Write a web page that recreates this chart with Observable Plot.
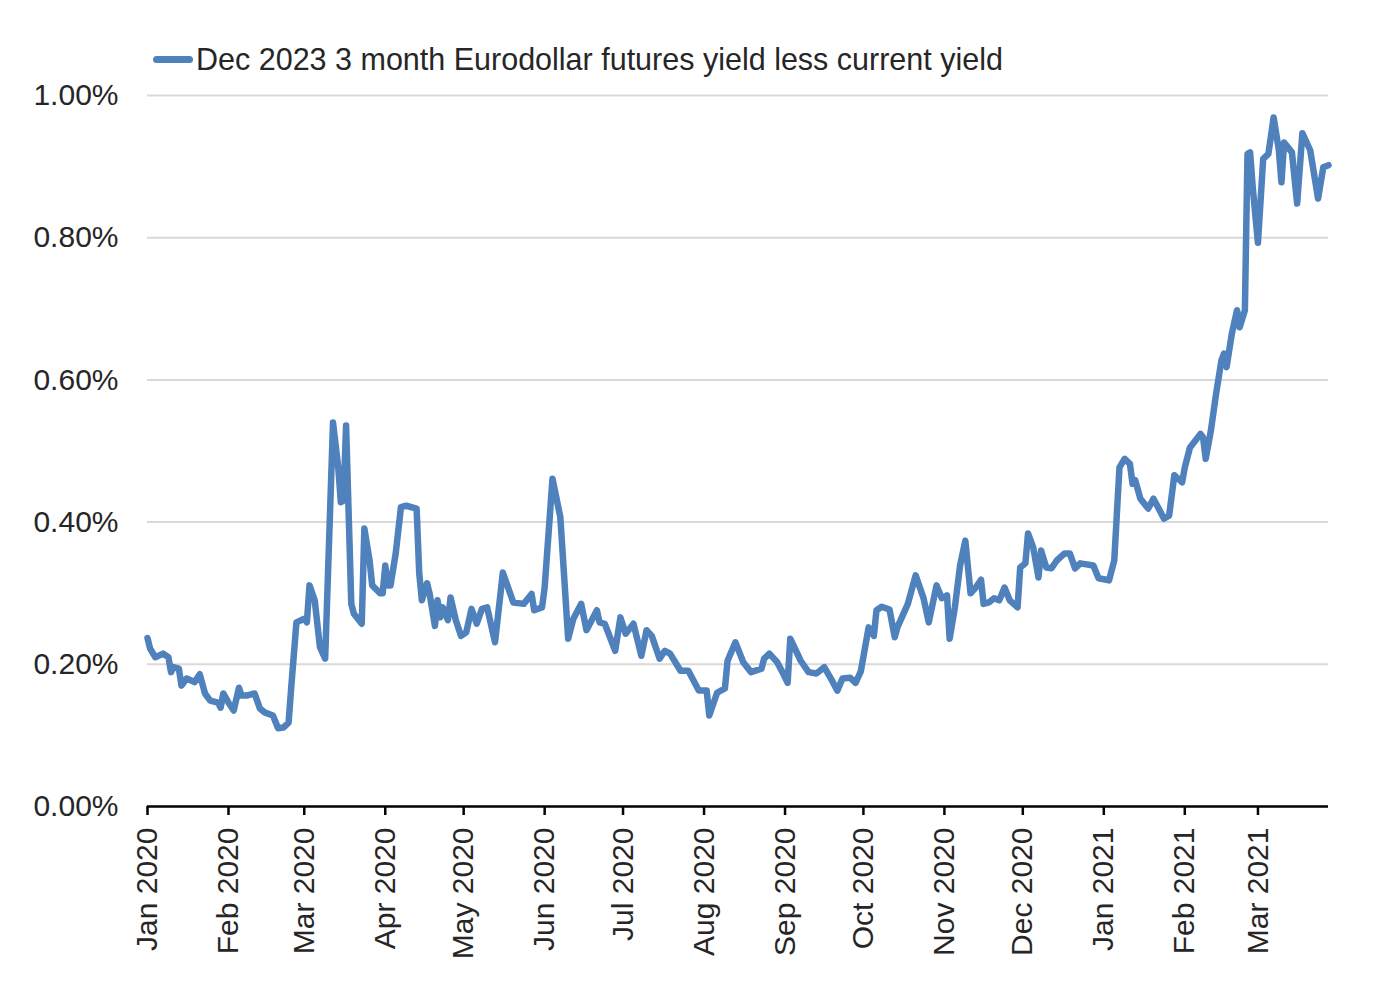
<!DOCTYPE html>
<html>
<head>
<meta charset="utf-8">
<script src="https://cdn.jsdelivr.net/npm/d3@7"></script>
<script src="https://cdn.jsdelivr.net/npm/@observablehq/plot@0.6"></script>
<style>
  html, body { margin: 0; padding: 0; background: #fff; }
  #wrap { position: relative; width: 1378px; height: 998px; }
  #legend { position: absolute; left: 153px; top: 42px; display: flex; align-items: center;
    font-family: "Liberation Sans", Arial, sans-serif; font-size: 30.5px; color: #262626; }
  #legend .sw { width: 40px; height: 7px; border-radius: 3.5px; background: #4F81BD; margin-right: 3px; }
</style>
</head>
<body>
<div id="wrap">
  <div id="legend"><span class="sw"></span><span>Dec 2023 3 month Eurodollar futures yield less current yield</span></div>
  <div id="chart"></div>
</div>
<script>
const seriesName = "Dec 2023 3 month Eurodollar futures yield less current yield";

const dates = [
"2020-01-01","2020-01-02","2020-01-04","2020-01-07","2020-01-09","2020-01-10","2020-01-11","2020-01-13","2020-01-14","2020-01-16",
"2020-01-19","2020-01-21","2020-01-23","2020-01-25","2020-01-28","2020-01-29","2020-01-30","2020-02-01","2020-02-03","2020-02-05",
"2020-02-06","2020-02-08","2020-02-11","2020-02-13","2020-02-15","2020-02-18","2020-02-20","2020-02-22","2020-02-24","2020-02-25",
"2020-02-27","2020-03-01","2020-03-02","2020-03-03","2020-03-05","2020-03-07","2020-03-09","2020-03-12","2020-03-14","2020-03-15",
"2020-03-16","2020-03-17","2020-03-19","2020-03-20","2020-03-23","2020-03-24","2020-03-26","2020-03-27","2020-03-30","2020-03-31",
"2020-04-01","2020-04-02","2020-04-03","2020-04-05","2020-04-07","2020-04-09","2020-04-13","2020-04-14","2020-04-15","2020-04-17",
"2020-04-18","2020-04-20","2020-04-21","2020-04-22","2020-04-23","2020-04-25","2020-04-26","2020-04-28","2020-04-30","2020-05-02",
"2020-05-04","2020-05-06","2020-05-08","2020-05-10","2020-05-13","2020-05-16","2020-05-20","2020-05-24","2020-05-27","2020-05-28",
"2020-05-31","2020-06-01","2020-06-04","2020-06-07","2020-06-10","2020-06-12","2020-06-15","2020-06-17","2020-06-21","2020-06-22",
"2020-06-24","2020-06-28","2020-06-30","2020-07-02","2020-07-05","2020-07-08","2020-07-10","2020-07-12","2020-07-15","2020-07-17",
"2020-07-19","2020-07-23","2020-07-26","2020-07-30","2020-08-02","2020-08-03","2020-08-06","2020-08-09","2020-08-10","2020-08-13",
"2020-08-16","2020-08-19","2020-08-23","2020-08-24","2020-08-26","2020-08-29","2020-08-31","2020-09-02","2020-09-03","2020-09-07",
"2020-09-10","2020-09-13","2020-09-16","2020-09-19","2020-09-21","2020-09-23","2020-09-26","2020-09-28","2020-09-30","2020-10-03",
"2020-10-05","2020-10-06","2020-10-08","2020-10-11","2020-10-13","2020-10-14","2020-10-18","2020-10-21","2020-10-24","2020-10-26",
"2020-10-29","2020-10-31","2020-11-02","2020-11-03","2020-11-05","2020-11-07","2020-11-09","2020-11-11","2020-11-13","2020-11-15",
"2020-11-16","2020-11-18","2020-11-20","2020-11-22","2020-11-24","2020-11-26","2020-11-29","2020-11-30","2020-12-02","2020-12-03",
"2020-12-05","2020-12-07","2020-12-08","2020-12-10","2020-12-12","2020-12-14","2020-12-17","2020-12-19","2020-12-21","2020-12-23",
"2020-12-28","2020-12-30","2021-01-02","2021-01-03","2021-01-05","2021-01-07","2021-01-09","2021-01-11","2021-01-12","2021-01-13",
"2021-01-15","2021-01-18","2021-01-20","2021-01-22","2021-01-24","2021-01-26","2021-01-28","2021-01-31","2021-02-01","2021-02-03",
"2021-02-07","2021-02-08","2021-02-09","2021-02-11","2021-02-13","2021-02-15","2021-02-16","2021-02-17","2021-02-19","2021-02-21",
"2021-02-22","2021-02-24","2021-02-25","2021-02-26","2021-02-27","2021-03-01","2021-03-03","2021-03-05","2021-03-07","2021-03-09",
"2021-03-10","2021-03-11","2021-03-14","2021-03-16","2021-03-18","2021-03-21","2021-03-24","2021-03-26","2021-03-28"
];

const values = [
0.237,0.222,0.210,0.215,0.210,0.189,0.196,0.194,0.170,0.180,
0.175,0.186,0.159,0.149,0.146,0.139,0.159,0.146,0.135,0.167,
0.156,0.156,0.159,0.138,0.132,0.128,0.110,0.111,0.118,0.167,
0.259,0.264,0.259,0.311,0.290,0.224,0.208,0.540,0.477,0.428,
0.430,0.536,0.285,0.271,0.257,0.391,0.346,0.311,0.300,0.300,
0.339,0.311,0.311,0.356,0.421,0.423,0.419,0.328,0.290,0.314,
0.299,0.254,0.290,0.266,0.280,0.262,0.294,0.262,0.240,0.245,
0.278,0.257,0.278,0.280,0.231,0.329,0.287,0.285,0.299,0.276,
0.280,0.308,0.461,0.407,0.236,0.264,0.285,0.248,0.276,0.259,
0.257,0.219,0.266,0.243,0.257,0.212,0.248,0.240,0.208,0.219,
0.215,0.191,0.191,0.163,0.163,0.128,0.160,0.166,0.205,0.231,
0.203,0.189,0.194,0.208,0.215,0.203,0.189,0.174,0.236,0.205,
0.189,0.187,0.196,0.177,0.163,0.180,0.181,0.174,0.190,0.252,
0.240,0.276,0.281,0.277,0.238,0.252,0.285,0.325,0.293,0.259,
0.311,0.293,0.297,0.236,0.280,0.339,0.374,0.300,0.308,0.319,
0.285,0.287,0.293,0.290,0.308,0.290,0.280,0.336,0.342,0.384,
0.364,0.322,0.360,0.336,0.335,0.346,0.356,0.356,0.335,0.342,
0.339,0.321,0.319,0.318,0.346,0.477,0.489,0.482,0.454,0.459,
0.433,0.419,0.433,0.419,0.405,0.409,0.466,0.456,0.477,0.505,
0.524,0.519,0.489,0.529,0.581,0.627,0.637,0.618,0.665,0.698,
0.674,0.698,0.918,0.920,0.871,0.793,0.911,0.918,0.969,0.923,
0.878,0.934,0.920,0.848,0.947,0.923,0.855,0.899,0.902
];

const monthTicks = ["2020-01-01","2020-02-01","2020-03-01","2020-04-01","2020-05-01","2020-06-01","2020-07-01",
  "2020-08-01","2020-09-01","2020-10-01","2020-11-01","2020-12-01","2021-01-01","2021-02-01","2021-03-01"];
const yTicks = [0, 0.2, 0.4, 0.6, 0.8, 1.0];
const xDomain = ["2020-01-01", "2021-03-28"];

const data = dates.map((d, i) => ({date: new Date(d + "T00:00:00Z"), value: values[i]}));

const chart = Plot.plot({
  width: 1378,
  height: 998,
  marginLeft: 147,
  marginRight: 50,
  marginTop: 95,
  marginBottom: 192,
  style: {fontFamily: "'Liberation Sans', Arial, sans-serif", fontSize: "30px", color: "#262626", background: "#fff"},
  x: {type: "utc", domain: xDomain.map(d => new Date(d + "T00:00:00Z"))},
  y: {domain: [0, 1]},
  marks: [
    Plot.gridY(yTicks.filter(d => d > 0), {stroke: "#d9d9d9", strokeOpacity: 1, strokeWidth: 2}),
    Plot.axisY({ticks: yTicks, tickSize: 0, tickPadding: 29, tickFormat: d => d.toFixed(2) + "%", label: null, fill: "#262626"}),
    Plot.axisX({ticks: monthTicks.map(d => new Date(d + "T00:00:00Z")), tickFormat: d3.utcFormat("%b %Y"),
      tickRotate: -90, tickSize: 9, tickPadding: 12, label: null, stroke: "#000", strokeWidth: 2.5, strokeOpacity: 1, fill: "#262626"}),
    Plot.ruleY([0], {stroke: "#000", strokeWidth: 2.5}),
    Plot.lineY(data, {x: "date", y: "value", stroke: "#4F81BD", strokeWidth: 6.5, strokeLinejoin: "round", strokeLinecap: "round"})
  ]
});
document.getElementById("chart").appendChild(chart);
</script>
</body>
</html>
